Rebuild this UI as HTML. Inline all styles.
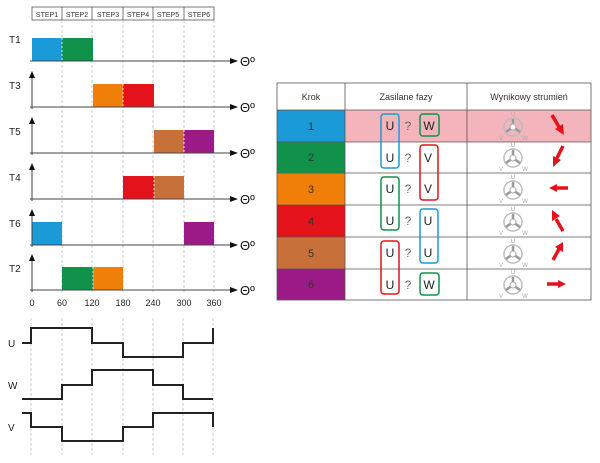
<!DOCTYPE html>
<html><head><meta charset="utf-8"><style>
html,body{margin:0;padding:0;background:#fff;}
svg{display:block;font-family:"Liberation Sans",sans-serif;}
</style></head><body>
<svg width="600" height="463" viewBox="0 0 600 463" xmlns="http://www.w3.org/2000/svg">
<defs>
<g id="motor">
<circle cx="0" cy="0" r="9" fill="none" stroke="#bbb" stroke-width="1.5"/>
<line x1="0" y1="0" x2="0" y2="-8" stroke="#999" stroke-width="2.5"/>
<line x1="0" y1="0" x2="-7" y2="5" stroke="#999" stroke-width="2.5"/>
<line x1="0" y1="0" x2="7" y2="5" stroke="#999" stroke-width="2.5"/>
<circle cx="0" cy="0" r="3" fill="#fff" stroke="#aaa"/>
<text x="0" y="-11" font-size="6" fill="#aaa" text-anchor="middle">U</text>
<text x="-12" y="13" font-size="6" fill="#aaa" text-anchor="middle">V</text>
<text x="12" y="13" font-size="6" fill="#aaa" text-anchor="middle">W</text>
</g>
</defs>
<!-- step header -->
<g stroke="#555" stroke-width="0.8" fill="#fff">
<rect x="32" y="7" width="182" height="13"/>
</g>
<g stroke="#555" stroke-width="0.8">
<line x1="62" y1="7" x2="62" y2="20"/><line x1="92" y1="7" x2="92" y2="20"/><line x1="123" y1="7" x2="123" y2="20"/><line x1="153" y1="7" x2="153" y2="20"/><line x1="184" y1="7" x2="184" y2="20"/>
</g>
<g font-size="7" fill="#333" text-anchor="middle">
<text x="47" y="17">STEP1</text><text x="77" y="17">STEP2</text><text x="108" y="17">STEP3</text><text x="138" y="17">STEP4</text><text x="168" y="17">STEP5</text><text x="199" y="17">STEP6</text>
</g>
<!-- grid dashes -->
<g stroke="#bbb" stroke-width="0.8" stroke-dasharray="3,2">
<line x1="62" y1="20" x2="62" y2="292"/><line x1="92" y1="20" x2="92" y2="292"/><line x1="123" y1="20" x2="123" y2="292"/><line x1="153" y1="20" x2="153" y2="292"/><line x1="184" y1="20" x2="184" y2="292"/><line x1="214" y1="20" x2="214" y2="292"/>
<line x1="31" y1="318" x2="31" y2="455"/><line x1="62" y1="318" x2="62" y2="455"/><line x1="92" y1="318" x2="92" y2="455"/><line x1="123" y1="318" x2="123" y2="455"/><line x1="153" y1="318" x2="153" y2="455"/><line x1="183" y1="318" x2="183" y2="455"/><line x1="213" y1="318" x2="213" y2="455"/>
</g>
<!-- bars -->
<rect x="32" y="38" width="30" height="23" fill="#1a9ad6"/><rect x="62" y="38" width="31" height="23" fill="#10924a"/>
<rect x="93" y="84" width="30" height="23" fill="#f07f0a"/><rect x="123" y="84" width="31" height="23" fill="#e3121b"/>
<rect x="154" y="130" width="30" height="23" fill="#c8703a"/><rect x="184" y="130" width="30" height="23" fill="#9c1a87"/>
<rect x="123" y="176" width="31" height="23" fill="#e3121b"/><rect x="154" y="176" width="30" height="23" fill="#c8703a"/>
<rect x="32" y="222" width="30" height="23" fill="#1a9ad6"/><rect x="184" y="222" width="30" height="23" fill="#9c1a87"/>
<rect x="62" y="267" width="31" height="23" fill="#10924a"/><rect x="93" y="267" width="30" height="23" fill="#f07f0a"/>
<g stroke="#fff" stroke-width="0.8" stroke-dasharray="2,2">
<line x1="62" y1="38" x2="62" y2="61"/><line x1="123" y1="84" x2="123" y2="107"/><line x1="184" y1="130" x2="184" y2="153"/><line x1="154" y1="176" x2="154" y2="199"/><line x1="93" y1="267" x2="93" y2="290"/>
</g>
<!-- axes -->
<g stroke="#444" stroke-width="1">
<line x1="30" y1="61" x2="231" y2="61"/><line x1="30" y1="107" x2="231" y2="107"/><line x1="30" y1="153" x2="231" y2="153"/><line x1="30" y1="199" x2="231" y2="199"/><line x1="30" y1="245" x2="231" y2="245"/><line x1="30" y1="290" x2="231" y2="290"/>
<line x1="32" y1="76" x2="32" y2="109"/><line x1="32" y1="122" x2="32" y2="155"/><line x1="32" y1="168" x2="32" y2="201"/><line x1="32" y1="214" x2="32" y2="247"/><line x1="32" y1="259" x2="32" y2="292"/>
</g>
<g fill="#111">
<path d="M230,58 L238,61 L230,64Z"/><path d="M230,104 L238,107 L230,110Z"/><path d="M230,150 L238,153 L230,156Z"/><path d="M230,196 L238,199 L230,202Z"/><path d="M230,242 L238,245 L230,248Z"/><path d="M230,287 L238,290 L230,293Z"/>
<path d="M29,78 L32,71 L35,78Z"/><path d="M29,124 L32,117 L35,124Z"/><path d="M29,170 L32,163 L35,170Z"/><path d="M29,216 L32,209 L35,216Z"/><path d="M29,261 L32,254 L35,261Z"/>
</g>
<g font-size="13" fill="#111">
<text x="240" y="66">Θº</text><text x="240" y="112">Θº</text><text x="240" y="158">Θº</text><text x="240" y="204">Θº</text><text x="240" y="250">Θº</text><text x="240" y="295">Θº</text>
</g>
<g font-size="10" fill="#222">
<text x="9" y="43">T1</text><text x="9" y="89">T3</text><text x="9" y="135">T5</text><text x="9" y="181">T4</text><text x="9" y="227">T6</text><text x="9" y="272">T2</text>
</g>
<g font-size="9" fill="#222" text-anchor="middle">
<text x="32" y="306">0</text><text x="62" y="306">60</text><text x="92" y="306">120</text><text x="123" y="306">180</text><text x="153" y="306">240</text><text x="184" y="306">300</text><text x="214" y="306">360</text>
</g>
<!-- waveforms -->
<g fill="none" stroke="#222" stroke-width="2">
<polyline points="22,343 31,343 31,328 92,328 92,343 123,343 123,357 183,357 183,343 213,343 213,328"/>
<polyline points="22,399 62,399 62,385 92,385 92,370 153,370 153,385 183,385 183,399 213,399"/>
<polyline points="22,413 31,413 31,427 62,427 62,441 123,441 123,427 153,427 153,413 213,413 213,427"/>
</g>
<g font-size="10" fill="#222"><text x="8" y="347">U</text><text x="8" y="389">W</text><text x="8" y="431">V</text></g>
<!-- table -->
<rect x="345" y="110" width="246" height="32" fill="#f4b4bc"/>
<rect x="277" y="110" width="68" height="32" fill="#1a9ad6"/>
<rect x="277" y="142" width="68" height="31" fill="#10924a"/>
<rect x="277" y="173" width="68" height="32" fill="#f07f0a"/>
<rect x="277" y="205" width="68" height="32" fill="#e3121b"/>
<rect x="277" y="237" width="68" height="32" fill="#c8703a"/>
<rect x="277" y="269" width="68" height="31" fill="#9c1a87"/>
<g stroke="#555" stroke-width="0.8" fill="none">
<rect x="277" y="83" width="314" height="217"/>
<line x1="277" y1="110" x2="591" y2="110"/><line x1="277" y1="142" x2="591" y2="142"/><line x1="277" y1="173" x2="591" y2="173"/><line x1="277" y1="205" x2="591" y2="205"/><line x1="277" y1="237" x2="591" y2="237"/><line x1="277" y1="269" x2="591" y2="269"/>
<line x1="345" y1="83" x2="345" y2="300"/><line x1="467" y1="83" x2="467" y2="300"/>
</g>
<g font-size="9" fill="#333" text-anchor="middle">
<text x="311" y="100">Krok</text><text x="406" y="100">Zasilane fazy</text><text x="529" y="100">Wynikowy strumień</text>
</g>
<g font-size="11" fill="#333" text-anchor="middle">
<text x="311" y="130">1</text><text x="311" y="161">2</text><text x="311" y="193">3</text><text x="311" y="225">4</text><text x="311" y="257">5</text><text x="311" y="288">6</text>
</g>
<g font-size="12" fill="#222" text-anchor="middle">
<text x="390" y="130">U</text><text x="408" y="130" fill="#666">?</text><text x="429" y="130">W</text>
<text x="390" y="162">U</text><text x="408" y="162" fill="#666">?</text><text x="428" y="162">V</text>
<text x="390" y="193">U</text><text x="408" y="193" fill="#666">?</text><text x="428" y="193">V</text>
<text x="390" y="225">U</text><text x="408" y="225" fill="#666">?</text><text x="428" y="225">U</text>
<text x="390" y="257">U</text><text x="408" y="257" fill="#666">?</text><text x="428" y="257">U</text>
<text x="390" y="289">U</text><text x="408" y="289" fill="#666">?</text><text x="429" y="289">W</text>
</g>
<g fill="none" stroke-width="1.5">
<rect x="381" y="114" width="18" height="54" rx="3" stroke="#1a9ad6"/>
<rect x="420" y="114" width="19" height="22" rx="3" stroke="#10924a"/>
<rect x="420" y="145" width="18" height="55" rx="3" stroke="#e3121b"/>
<rect x="381" y="177" width="18" height="53" rx="3" stroke="#10924a"/>
<rect x="420" y="209" width="18" height="54" rx="3" stroke="#1a9ad6"/>
<rect x="381" y="241" width="18" height="53" rx="3" stroke="#e3121b"/>
<rect x="420" y="273" width="19" height="22" rx="3" stroke="#10924a"/>
</g>
<use href="#motor" x="513" y="127"/><use href="#motor" x="513" y="158"/><use href="#motor" x="513" y="190"/><use href="#motor" x="513" y="222"/><use href="#motor" x="513" y="254"/><use href="#motor" x="513" y="285"/>
<g stroke="#e3121b" stroke-width="3.5" fill="#e3121b">
<line x1="552" y1="115" x2="559" y2="127"/><path d="M555,129 L564,135 L563,124Z" stroke="none"/>
<line x1="563" y1="146" x2="557" y2="158"/><path d="M553,156 L553,167 L561,160Z" stroke="none"/>
<line x1="568" y1="188" x2="556" y2="188"/><path d="M557,184 L549,188 L557,192Z" stroke="none"/>
<line x1="563" y1="231" x2="556" y2="219"/><path d="M552,221 L552,210 L560,216Z" stroke="none"/>
<line x1="553" y1="260" x2="559" y2="249"/><path d="M555,247 L563,242 L563,252Z" stroke="none"/>
<line x1="547" y1="284" x2="559" y2="284"/><path d="M558,280 L566,284 L558,288Z" stroke="none"/>
</g>
</svg>
</body></html>
